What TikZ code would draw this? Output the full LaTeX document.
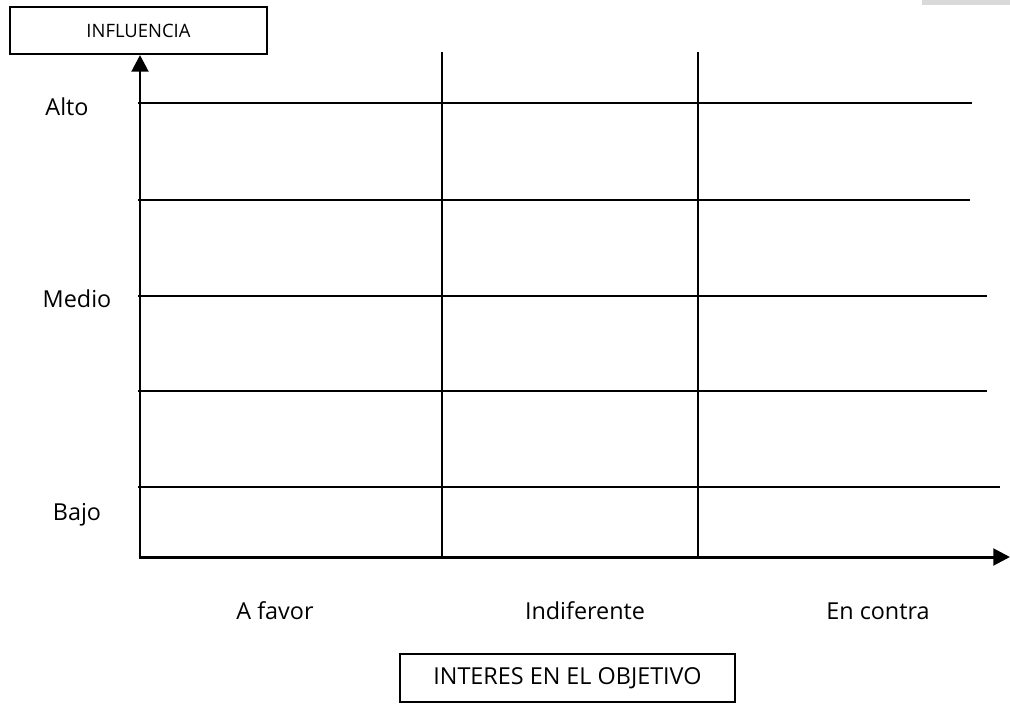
\documentclass[tikz,border=0pt]{standalone}
\usepackage{fontspec}
\setmainfont{Open Sans}
\usetikzlibrary{arrows.meta}
\begin{document}
\begin{tikzpicture}[x=0.02cm,y=-0.02cm,>={Triangle[width=9.5pt,length=9.5pt]},font=\fontsize{13.3}{15}\selectfont,
	caja/.style={draw,line width=0.8pt,inner sep=0pt},
	rejilla/.style={line width=1pt},
	eje/.style={line width=1.7pt}]
			\useasboundingbox (0,0) rectangle (1010,703);
			\fill[black!15] (922,0) rectangle (1010,5);
			\node[caja,minimum width=5.14cm,minimum height=0.94cm,font=\fontsize{10.5}{12}\selectfont] (influencia) at (138.5,30.5) {INFLUENCIA};
			\node[caja,minimum width=6.7cm,minimum height=0.96cm] (interes) at (567.5,678) {INTERES EN EL OBJETIVO};
			\coordinate (O) at (140,557);
			\coordinate (ytop) at (140,55);
			\coordinate (xend) at (1010,557);
			\foreach \y/\xe in {103/972,200/970,296/987,391/987,487/1000} \draw[rejilla] (138,\y) -- (\xe,\y);
			\foreach \x in {442,698} \draw[rejilla] (\x,52) -- (\x,557);
			\draw[eje,->] (O) -- (ytop);
			\draw[eje,->] ([xshift=-0.8pt]O) -- (xend);
			\node (alto) at (67,107) {Alto};
			\node (medio) at (77,299) {Medio};
			\node (bajo) at (77,515) {Bajo};
			\node (favor) at (275,611) {A favor};
			\node (indif) at (585,611) {Indiferente};
			\node (contra) at (878,611) {En contra};
	\end{tikzpicture}
\end{document}
